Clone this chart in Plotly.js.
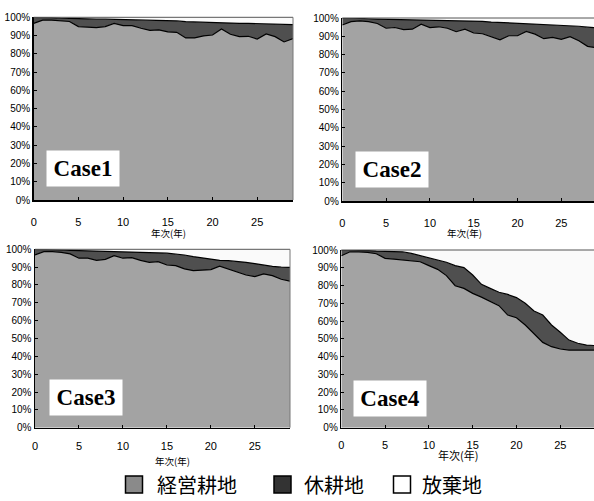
<!DOCTYPE html>
<html><head><meta charset="utf-8">
<script src="https://cdn.plot.ly/plotly-3.0.1.min.js"></script>
<style>html,body{margin:0;padding:0;background:#fff}#chart{width:594px;height:501px}</style>
</head><body><div id="chart"></div>
<script>
// ---- data ----
const years = [0,1,2,3,4,5,6,7,8,9,10,11,12,13,14,15,16,17,18,19,20,21,22,23,24,25,26,27,28,29];
const xTickVals = [0,5,10,15,20,25];
const yTickVals = [0,10,20,30,40,50,60,70,80,90,100];
const yTickText = ["0%","10%","20%","30%","40%","50%","60%","70%","80%","90%","100%"];
const seriesNames = ["経営耕地","休耕地","放棄地"];
const caseNames = ["Case1","Case2","Case3","Case4"];
const xTitle = "年次(年)";

const case1Managed = [96.7,98.4,98.4,98.2,97.7,94.9,94.7,94.4,94.9,96.7,95.4,95.4,94.0,92.8,93.1,92.0,91.8,88.7,88.7,89.8,90.3,93.6,90.7,89.4,89.6,88.1,90.9,89.4,86.5,88.3];
const case1Fallow  = [3.3,1.6,1.4,1.3,1.6,4.3,4.4,4.6,4.1,2.2,3.4,3.3,4.6,5.6,5.2,6.2,6.2,8.9,8.7,7.5,6.6,3.2,6.1,7.3,7.1,8.5,5.6,6.9,9.6,7.7];
const case1Aband   = [0,0,0.2,0.5,0.7,0.8,0.9,1.0,1.0,1.1,1.2,1.3,1.4,1.6,1.7,1.8,2.0,2.4,2.6,2.7,3.1,3.2,3.2,3.3,3.3,3.4,3.5,3.7,3.9,4.0];

const case2Managed = [96.2,98.0,98.4,98.0,97.0,94.4,94.8,93.7,93.9,96.6,94.8,95.2,94.4,92.5,93.9,91.8,91.4,89.8,88.1,90.3,90.3,92.7,91.2,88.7,89.4,88.3,89.8,87.6,84.5,83.8];
const case2Fallow  = [3.8,2.0,1.4,1.6,2.4,4.9,4.4,5.4,5.1,2.4,4.1,3.6,4.4,6.2,4.7,6.6,6.8,8.0,9.5,7.0,6.6,4.0,5.3,7.7,6.8,7.7,6.0,7.9,10.5,10.8];
const case2Aband   = [0,0,0.2,0.4,0.6,0.7,0.8,0.9,1.0,1.0,1.1,1.2,1.2,1.3,1.4,1.6,1.8,2.2,2.4,2.7,3.1,3.3,3.5,3.6,3.8,4.0,4.2,4.5,5.0,5.4];

const case3Managed = [96.8,98.7,98.7,98.3,97.4,95.0,95.0,93.8,94.4,96.4,95.0,95.3,93.8,92.7,93.1,91.2,90.8,89.0,88.0,88.2,88.6,90.5,89.0,87.1,85.6,84.7,86.2,85.2,83.2,82.2];
const case3Fallow  = [3.2,1.3,1.1,1.3,2.0,4.3,4.2,5.3,4.6,2.5,3.7,3.3,4.7,5.6,4.9,6.6,6.7,7.8,7.9,7.1,5.7,3.3,4.6,6.2,7.1,7.3,4.9,5.2,6.8,7.7];
const case3Aband   = [0,0,0.2,0.4,0.6,0.7,0.8,0.9,1.0,1.1,1.3,1.4,1.5,1.7,2.0,2.2,2.5,3.2,4.1,4.7,5.7,6.2,6.4,6.7,7.3,8.0,8.9,9.6,10.0,10.1];

const case4Managed = [96.8,99.0,99.0,98.7,97.9,95.3,94.9,94.4,93.8,93.4,91.2,89.1,85.6,79.9,78.4,75.6,73.5,71.3,68.7,63.4,61.9,57.8,52.7,48.0,45.6,44.3,43.7,43.7,43.7,43.7];
const case4Fallow  = [3.2,1.0,0.9,1.0,1.5,3.9,4.2,4.6,4.3,3.4,4.1,5.3,7.5,11.3,11.7,10.3,7.2,7.1,7.5,11.6,11.3,12.2,13.0,15.4,12.2,9.4,5.6,3.8,2.8,2.5];
const case4Aband   = [0,0,0.1,0.3,0.6,0.8,0.9,1.0,1.9,3.2,4.7,5.6,6.9,8.8,9.9,14.1,19.3,21.6,23.8,25.0,26.8,30.0,34.3,36.6,42.2,46.3,50.7,52.5,53.5,53.8];

// ---- styling / layout ----
const W = 594, H = 501;
const X = p => p / W, Y = p => (H - p) / H;
const fillColors = ["#a3a3a3", "#4f4f4f", "#fafafa"];
const legendColors = ["#8a8a8a", "#333333", "#ffffff"];

const panels = [
  {m: case1Managed, f: case1Fallow, a: case1Aband, x0: 33.7, x1: 293, y0: 17.3, y1: 200, xmax: 29, right: true,
   label: [46, 150], title: [168, 232.5], std: 11},
  {m: case2Managed, f: case2Fallow, a: case2Aband, x0: 342.3, x1: 594, y0: 18, y1: 201, xmax: 28.73, right: false,
   label: [355, 151], title: [464, 232.5], std: 11},
  {m: case3Managed, f: case3Fallow, a: case3Aband, x0: 35, x1: 290, y0: 249.3, y1: 427.7, xmax: 29, right: true,
   label: [49, 379], title: [172, 460.5], std: 8},
  {m: case4Managed, f: case4Fallow, a: case4Aband, x0: 341.3, x1: 594, y0: 250, y1: 427.7, xmax: 28.85, right: false,
   label: [352.7, 380], title: [457.5, 455], std: 7}
];

const data = [];
const layout = {
  width: W, height: H, margin: {l: 0, r: 0, t: 0, b: 0},
  paper_bgcolor: "#fff", plot_bgcolor: "#fff", showlegend: false,
  shapes: [], annotations: [],
  font: {family: "Liberation Sans, Arial, sans-serif", color: "#000"}
};

panels.forEach((p, i) => {
  const n = i + 1;
  const xa = "x" + (n === 1 ? "" : n), ya = "y" + (n === 1 ? "" : n);
  const sg = "s" + n;
  [p.m, p.f, p.a].forEach((vals, k) => {
    data.push({
      type: "scatter", mode: "lines", x: years, y: vals, xaxis: xa, yaxis: ya,
      stackgroup: sg, name: seriesNames[k], fillcolor: fillColors[k],
      line: {color: k === 2 ? "rgba(0,0,0,0)" : "#000", width: k === 2 ? 0 : 1.2},
      hoverinfo: "skip"
    });
  });
  layout["xaxis" + (n === 1 ? "" : n)] = {
    domain: [X(p.x0), X(p.x1)], anchor: ya, range: [0, p.xmax],
    tickvals: xTickVals, ticks: "inside", ticklen: 3, tickcolor: "#000",
    showline: true, linecolor: "#000", linewidth: 1.5, showgrid: false, zeroline: false,
    tickfont: {family: "Liberation Sans, Arial, sans-serif", size: 11, color: "#000"},
    ticklabelstandoff: p.std, fixedrange: true
  };
  layout["yaxis" + (n === 1 ? "" : n)] = {
    domain: [Y(p.y1), Y(p.y0)], anchor: xa, range: [0, 100],
    tickvals: yTickVals, ticktext: yTickText, ticks: "inside", ticklen: 3, tickcolor: "#000",
    showline: true, linecolor: "#000", linewidth: 1.5, showgrid: false, zeroline: false,
    tickfont: {family: "Liberation Sans, Arial, sans-serif", size: 10, color: "#000"},
    fixedrange: true
  };
  // frame lines top / right
  layout.shapes.push({type: "line", xref: xa + " domain", yref: ya + " domain", x0: 0, x1: 1, y0: 1, y1: 1,
    line: {color: "#555", width: 1}, layer: "above"});
  if (p.right) layout.shapes.push({type: "line", xref: xa + " domain", yref: ya + " domain", x0: 1, x1: 1, y0: 0, y1: 1,
    line: {color: "#777", width: 1}, layer: "above"});
  // case label
  layout.annotations.push({
    xref: "paper", yref: "paper", x: X(p.label[0]), y: Y(p.label[1]), xanchor: "left", yanchor: "top",
    width: 72, height: 35, bgcolor: "#fff", borderpad: 0, showarrow: false,
    text: "<b>" + caseNames[i] + "</b>",
    font: {family: "Liberation Serif, Times New Roman, serif", size: 23, color: "#000"}
  });
  // x axis title
  layout.annotations.push({
    xref: "paper", yref: "paper", x: X(p.title[0]), y: Y(p.title[1]), xanchor: "center", yanchor: "middle",
    showarrow: false, text: xTitle,
    font: {family: "Noto Sans CJK JP, sans-serif", size: i === 3 ? 11 : 9.5, color: "#000"}
  });
});

// custom legend
const legItems = [[125.5, 155], [274, 302], [393.5, 420]];
legItems.forEach((it, k) => {
  layout.shapes.push({type: "rect", xref: "paper", yref: "paper",
    x0: X(it[0]), x1: X(it[0] + 17), y0: Y(476), y1: Y(493),
    fillcolor: legendColors[k], line: {color: "#000", width: 1.5}});
  layout.annotations.push({xref: "paper", yref: "paper", x: X(it[1]), y: Y(484.5), xanchor: "left", yanchor: "middle",
    showarrow: false, text: seriesNames[k],
    font: {family: "Noto Sans CJK JP, sans-serif", size: 20, color: "#000"}});
});

Plotly.newPlot("chart", data, layout, {displayModeBar: false, staticPlot: true});
</script></body></html>
